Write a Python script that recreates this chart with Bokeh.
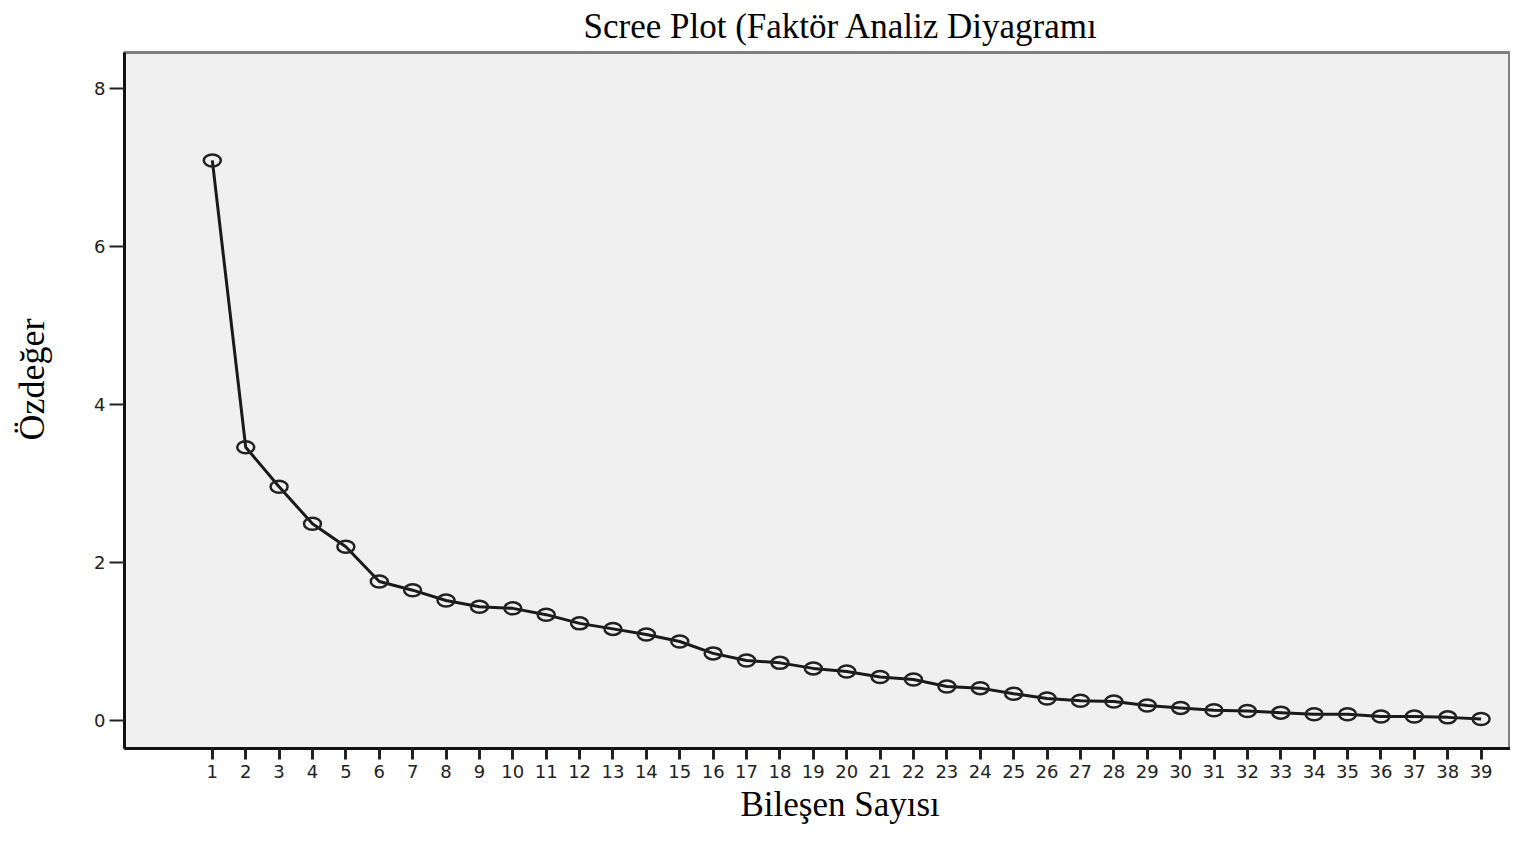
from bokeh.plotting import figure
from bokeh.models import Range1d, FixedTicker, Title, ColumnDataSource
from bokeh.embed import file_html
from bokeh.resources import INLINE

components = list(range(1, 40))
eigenvalues = [7.09, 3.46, 2.96, 2.49, 2.20, 1.76, 1.65, 1.52, 1.44, 1.42,
               1.34, 1.23, 1.16, 1.09, 1.00, 0.85, 0.76, 0.73, 0.66, 0.62,
               0.55, 0.52, 0.43, 0.41, 0.34, 0.28, 0.25, 0.24, 0.19, 0.16,
               0.13, 0.12, 0.10, 0.08, 0.08, 0.05, 0.05, 0.04, 0.02]
y_ticks = [0, 2, 4, 6, 8]
title_text = "Scree Plot (Faktör Analiz Diyagramı"
x_label = "Bileşen Sayısı"
y_label = "Özdeğer"

src = ColumnDataSource(dict(x=components, y=eigenvalues))

p = figure(width=1510, height=825, output_backend="svg", toolbar_location=None,
           x_range=Range1d(-1.63, 39.88), y_range=Range1d(-0.354, 8.456),
           min_border_left=124, min_border_right=0, min_border_top=52, min_border_bottom=77,
           background_fill_color="#f0f0f0", border_fill_color="white")
p.title.visible = False
p.outline_line_color = "#808080"
p.outline_line_width = 3
p.grid.visible = False

serif = "Liberation Serif"
sans = "DejaVu Sans"

xa = p.xaxis[0]
xa.ticker = FixedTicker(ticks=components)
xa.axis_line_color = "#111111"
xa.axis_line_width = 3
xa.major_tick_out = 11
xa.major_tick_in = 0
xa.major_tick_line_width = 3
xa.major_tick_line_color = "#222222"
xa.minor_tick_line_color = None
xa.major_label_text_font = sans
xa.major_label_text_font_size = "18px"
xa.major_label_text_color = "#222222"
xa.major_label_standoff = 5

ya = p.yaxis[0]
ya.ticker = FixedTicker(ticks=y_ticks)
ya.axis_line_color = "#111111"
ya.axis_line_width = 3
ya.major_tick_out = 15
ya.major_tick_in = 0
ya.major_tick_line_width = 2
ya.major_tick_line_color = "#222222"
ya.minor_tick_line_color = None
ya.major_label_text_font = sans
ya.major_label_text_font_size = "18px"
ya.major_label_text_color = "#222222"
ya.major_label_standoff = 4

p.add_layout(Title(text=title_text, align="left", offset=459, standoff=10, vertical_align="top",
                   text_font=serif, text_font_size="35px", text_font_style="normal",
                   text_color="#000000"), "above")
p.add_layout(Title(text=x_label, align="left", offset=616, standoff=4,
                   text_font=serif, text_font_size="35px", text_font_style="normal",
                   text_color="#000000"), "below")
# blank spacer between the y axis and its label
p.add_layout(Title(text=" ", standoff=19, text_font=serif, text_font_size="12px"), "left")
p.add_layout(Title(text=y_label, align="left", offset=308, standoff=10,
                   text_font=serif, text_font_size="36px", text_font_style="normal",
                   text_color="#000000"), "left")

p.line("x", "y", source=src, line_color="#1a1a1a", line_width=3)
p.ellipse("x", "y", source=src, width=17, height=12, width_units="screen", height_units="screen",
          fill_color=None, line_color="#222222", line_width=2.5)

open("out.html", "w").write(file_html(p, INLINE))
